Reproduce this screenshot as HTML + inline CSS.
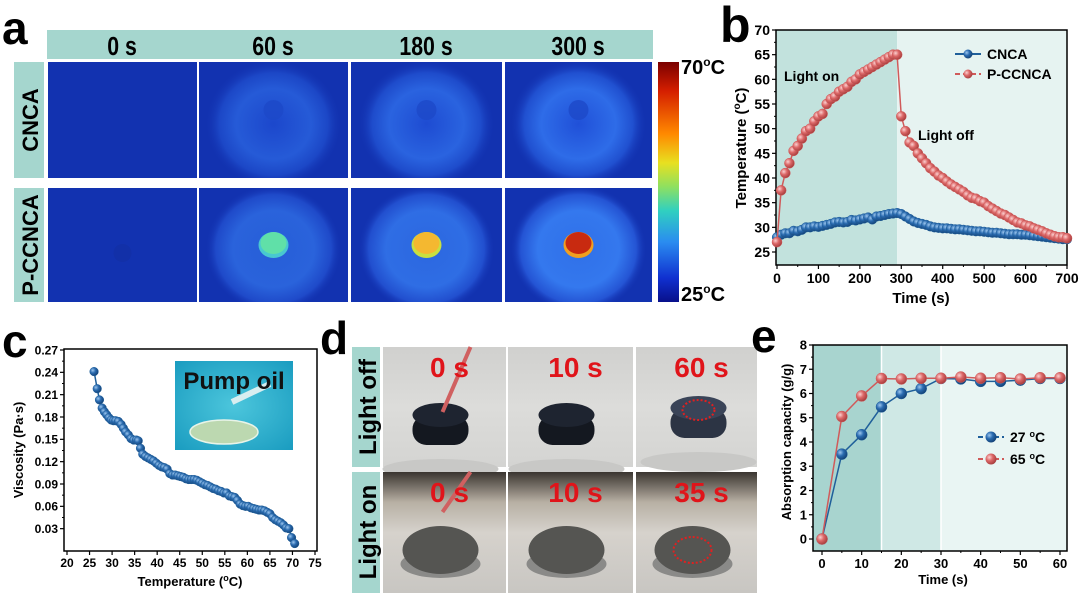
<!DOCTYPE html>
<html><head><meta charset="utf-8">
<style>
html,body{margin:0;padding:0;background:#fff;}
svg{display:block;font-family:"Liberation Sans",Arial,sans-serif;font-weight:bold;}
</style></head>
<body>
<svg id="fig" width="1080" height="593" viewBox="0 0 1080 593">
<defs id="defs">
  <radialGradient id="ballBlue" cx="0.35" cy="0.35" r="0.7">
    <stop offset="0" stop-color="#9cc6ee"/><stop offset="0.45" stop-color="#2a6bb0"/><stop offset="1" stop-color="#123f72"/>
  </radialGradient>
  <radialGradient id="ballRed" cx="0.35" cy="0.35" r="0.7">
    <stop offset="0" stop-color="#fbd0d0"/><stop offset="0.45" stop-color="#dc6868"/><stop offset="1" stop-color="#a33a3a"/>
  </radialGradient>
  <linearGradient id="cbar" x1="0" y1="0" x2="0" y2="1">
    <stop offset="0" stop-color="#7a0000"/><stop offset="0.12" stop-color="#d41e00"/><stop offset="0.3" stop-color="#ff8a00"/>
    <stop offset="0.42" stop-color="#e8e020"/><stop offset="0.52" stop-color="#8ee060"/><stop offset="0.62" stop-color="#30d0c0"/>
    <stop offset="0.75" stop-color="#2a8cf0"/><stop offset="0.9" stop-color="#1030d0"/><stop offset="1" stop-color="#08108a"/>
  </linearGradient>
  <radialGradient id="glow" cx="0.5" cy="0.5" r="0.5">
    <stop offset="0" stop-color="#2050d8"/><stop offset="0.55" stop-color="#2e6ce8"/><stop offset="0.8" stop-color="#2050d0"/><stop offset="1" stop-color="#1434b4" stop-opacity="0"/>
  </radialGradient>
  <radialGradient id="glow2" cx="0.5" cy="0.5" r="0.5">
    <stop offset="0" stop-color="#3070e8"/><stop offset="0.6" stop-color="#3478ee"/><stop offset="0.85" stop-color="#2454d4"/><stop offset="1" stop-color="#1434b4" stop-opacity="0"/>
  </radialGradient>
  <linearGradient id="photoOff" x1="0" y1="0" x2="0" y2="1">
    <stop offset="0" stop-color="#d0d0ce"/><stop offset="0.5" stop-color="#dcdcda"/><stop offset="1" stop-color="#d4d4d2"/>
  </linearGradient>
  <linearGradient id="photoOn" x1="0" y1="0" x2="0" y2="1">
    <stop offset="0" stop-color="#3a3530"/><stop offset="0.25" stop-color="#b8b0a4"/><stop offset="0.5" stop-color="#d6d2cc"/><stop offset="1" stop-color="#c8c6c2"/>
  </linearGradient>
  <radialGradient id="inset" cx="0.5" cy="0.5" r="0.7">
    <stop offset="0" stop-color="#4cc6dc"/><stop offset="1" stop-color="#1a9cc0"/>
  </radialGradient>
</defs>

<!-- ============ PANEL A ============ -->
<g>
  <text x="2" y="44" font-size="46">a</text>
  <rect x="47" y="30" width="606" height="29" fill="#a5d6ce"/>
  <g font-size="26" text-anchor="middle">
    <text transform="translate(122,55) scale(0.82,1)">0 s</text>
    <text transform="translate(273,55) scale(0.82,1)">60 s</text>
    <text transform="translate(426,55) scale(0.82,1)">180 s</text>
    <text transform="translate(578,55) scale(0.82,1)">300 s</text>
  </g>
  <rect x="14" y="62" width="30" height="116" fill="#a5d6ce"/>
  <rect x="14" y="188" width="30" height="114" fill="#a5d6ce"/>
  <text transform="translate(38,120) rotate(-90)" font-size="22" text-anchor="middle">CNCA</text>
  <text transform="translate(38,245) rotate(-90)" font-size="22" text-anchor="middle">P-CCNCA</text>
  <g id="thermal"></g>
  <rect x="658" y="62" width="21" height="240" fill="url(#cbar)"/>
  <text x="681" y="74" font-size="20">70<tspan font-size="12" dy="-8">o</tspan><tspan dy="8">C</tspan></text>
  <text x="681" y="301" font-size="20">25<tspan font-size="12" dy="-8">o</tspan><tspan dy="8">C</tspan></text>
</g>

<!-- ============ PANEL B ============ -->
<g>
  <text x="720" y="42" font-size="50">b</text>
  <g id="chartB"></g>
</g>

<!-- ============ PANEL C ============ -->
<g>
  <text x="2" y="357" font-size="46">c</text>
  <g id="chartC"></g>
</g>

<!-- ============ PANEL D ============ -->
<g>
  <text x="320" y="354" font-size="46">d</text>
  <rect x="352" y="347" width="28" height="120" fill="#a5d6ce"/>
  <rect x="352" y="472" width="28" height="121" fill="#a5d6ce"/>
  <text transform="translate(376,407) rotate(-90)" font-size="24" text-anchor="middle">Light off</text>
  <text transform="translate(376,532) rotate(-90)" font-size="24" text-anchor="middle">Light on</text>
  <g id="photos"></g>
</g>

<!-- ============ PANEL E ============ -->
<g>
  <text x="751" y="352" font-size="46">e</text>
  <g id="chartE"></g>
</g>
</svg>

<script>
// ---------- DATA ----------
// Panel b
const bTime = [];
for (let i = 0; i <= 70; i++) bTime.push(i * 10);
const bCNCA = [28,28.5,28.8,28.8,29.3,29.2,29.5,30,30,30.2,
  30.1,30.3,30.5,30.7,31,31.1,31.0,31.1,31.5,31.4,
  31.6,31.8,32,31.6,32.2,32.3,32.5,32.7,32.8,32.9,
  32.7,32.2,31.7,31.2,30.9,30.7,30.5,30.2,30.0,29.9,
  29.8,29.8,29.7,29.6,29.6,29.5,29.4,29.3,29.2,29.2,
  29.1,29.0,28.9,28.9,28.8,28.7,28.6,28.6,28.6,28.5,
  28.5,28.4,28.3,28.2,28.1,28,27.9,27.8,27.7,27.6,27.6];
const bPCCNCA = [27,37.5,41,43,45.5,46.5,48,49.5,50,51.5,
  52.5,53,55,56,56.5,57.5,58,58.5,59.5,60,
  61,61.5,62,62.5,63,63.5,64,64.5,65,65,
  52.5,49.5,47.2,46.5,45,44,43,42,41.3,40.5,
  40,39.3,38.7,38.2,37.7,37.2,36.5,36,35.8,35.3,
  35,34.3,33.8,33.3,32.8,32.5,32,31.5,31,30.8,
  30.4,30.2,29.8,29.5,29.2,28.8,28.5,28.2,28,28,27.8];
const bXTicks = [0,100,200,300,400,500,600,700];
const bYTicks = [25,30,35,40,45,50,55,60,65,70];

// Panel c
const cTemp = [26,26.7,27.2,27.8,28.3,28.8,29.3,29.8,30.3,30.8,31.4,32,32.5,33,33.6,34.2,34.8,35.4,35.8,36.3,36.8,37.4,38,38.6,39.2,39.8,40.4,41,41.6,42.2,42.8,43.4,44,44.6,45.2,45.8,46.4,47,47.6,48.2,48.8,49.4,50,50.6,51.2,51.8,52.4,53,53.6,54.2,54.8,55.4,56,56.6,57.2,57.8,58.4,59,59.6,60.2,60.8,61.4,62,62.6,63.2,63.8,64.4,65,65.6,66.2,66.8,67.4,68,68.6,69.2,69.8,70.5];
const cVisc = [0.241,0.218,0.203,0.192,0.187,0.183,0.179,0.176,0.175,0.175,0.174,0.170,0.165,0.160,0.156,0.151,0.149,0.149,0.148,0.138,0.130,0.127,0.125,0.123,0.121,0.118,0.115,0.113,0.112,0.110,0.104,0.102,0.102,0.101,0.100,0.099,0.097,0.096,0.096,0.096,0.095,0.093,0.091,0.089,0.088,0.086,0.084,0.083,0.081,0.080,0.078,0.078,0.074,0.073,0.072,0.068,0.063,0.061,0.060,0.060,0.058,0.057,0.056,0.055,0.055,0.054,0.052,0.050,0.045,0.042,0.040,0.038,0.035,0.031,0.030,0.018,0.010];
const cXTicks = [20,25,30,35,40,45,50,55,60,65,70,75];
const cYTicks = [0.03,0.06,0.09,0.12,0.15,0.18,0.21,0.24,0.27];

// Panel e
const eTime = [0,5,10,15,20,25,30,35,40,45,50,55,60];
const e27 = [0,3.5,4.3,5.45,6.0,6.2,6.62,6.6,6.5,6.5,6.55,6.62,6.62];
const e65 = [0,5.05,5.9,6.62,6.6,6.63,6.63,6.68,6.63,6.65,6.6,6.65,6.65];
const eXTicks = [0,10,20,30,40,50,60];
const eYTicks = [0,1,2,3,4,5,6,7,8];

// ---------- HELPERS ----------
const NS = "http://www.w3.org/2000/svg";
function mk(parent, tag, attrs) {
  const el = document.createElementNS(NS, tag);
  for (const k in attrs) el.setAttribute(k, attrs[k]);
  parent.appendChild(el);
  return el;
}
function txt(parent, x, y, s, size, anchor) {
  const t = mk(parent, "text", {x: x, y: y, "font-size": size, "text-anchor": anchor || "middle"});
  t.textContent = s;
  return t;
}

// ---------- THERMAL IMAGES ----------
(function () {
  const g = document.getElementById("thermal");
  const defs = document.getElementById("defs");
  const cols = [[48,149],[199,149],[351,151],[505,147]];
  const rows = [[62,116],[188,114]];
  const spots = [null, ["#60e0a8","#48c8d0"], ["#f4b830","#c8e040"], ["#c82a10","#f0a020"]];
  rows.forEach((r, ri) => {
    cols.forEach((c, ci) => {
      const cid = "clip" + ri + ci;
      const cp = mk(defs, "clipPath", {id: cid});
      mk(cp, "rect", {x: c[0], y: r[0], width: c[1], height: r[1]});
      const cell = mk(g, "g", {"clip-path": "url(#" + cid + ")"});
      
      
      mk(cell, "rect", {x: c[0], y: r[0], width: c[1], height: r[1], fill: "#1232b0"});
      const cx = c[0] + c[1] / 2, cy = r[0] + r[1] / 2 + 4;
      if (ci > 0) {
        mk(cell, "ellipse", {cx: cx, cy: cy, rx: 68, ry: 64, fill: ri === 0 ? "url(#glow)" : "url(#glow2)", opacity: 0.55 + 0.15 * ci});
        if (ri === 0) mk(cell, "circle", {cx: cx, cy: cy - 14, r: 10, fill: "#1d48c8", opacity: 0.8});
      } else if (ri === 1) {
        mk(cell, "circle", {cx: cx, cy: cy + 4, r: 9, fill: "#1230a8"});
      }
      if (ri === 1 && spots[ci]) {
        const s = spots[ci];
        mk(cell, "ellipse", {cx: cx, cy: cy - 4, rx: 15, ry: 13, fill: s[1]});
        mk(cell, "ellipse", {cx: cx, cy: cy - 6, rx: 13, ry: 11, fill: s[0]});
      }
    });
  });
})();

// ---------- PHOTOS ----------
(function () {
  const g = document.getElementById("photos");
  const cols = [[383,123],[508,125],[636,121]];
  const rows = [[347,120,"url(#photoOff)"],[472,121,"url(#photoOn)"]];
  const labels = [["0 s","10 s","60 s"],["0 s","10 s","35 s"]];
  rows.forEach((r, ri) => {
    cols.forEach((c, ci) => {
      const cell = mk(g, "g", {});
      
      
      mk(cell, "rect", {x: c[0], y: r[0], width: c[1], height: r[1], fill: r[2]});
      const cx = c[0] + c[1] / 2 + (ri === 0 && ci === 2 ? 2 : -4);
      if (ri === 0) {
        const cy = r[0] + (ci === 2 ? 75 : 82);
        mk(cell, "ellipse", {cx: cx, cy: cy + 40, rx: 58, ry: 10, fill: "#c8c8c6"});
        mk(cell, "rect", {x: cx - 28, y: cy - 14, width: 56, height: 30, rx: 14, fill: ci === 2 ? "#2c3444" : "#141820"});
        mk(cell, "ellipse", {cx: cx, cy: cy - 14, rx: 28, ry: 12, fill: ci === 2 ? "#3a4458" : "#1e2430"});
        if (ci === 2) mk(cell, "ellipse", {cx: cx, cy: cy - 12, rx: 16, ry: 10, fill: "none", stroke: "#e02020", "stroke-width": 2, "stroke-dasharray": "2 2"});
      } else {
        const cy = r[0] + 80;
        mk(cell, "ellipse", {cx: cx, cy: cy + 12, rx: 40, ry: 14, fill: "#8a8a88"});
        mk(cell, "ellipse", {cx: cx, cy: cy - 2, rx: 38, ry: 24, fill: "#555552"});
        if (ci === 2) mk(cell, "ellipse", {cx: cx, cy: cy - 2, rx: 19, ry: 13, fill: "none", stroke: "#e02020", "stroke-width": 2, "stroke-dasharray": "2 2"});
      }
      if (ci === 0) mk(cell, "line", {x1: cx + 2, y1: r[0] + (ri === 0 ? 65 : 40), x2: cx + 30, y2: r[0], stroke: "#d06060", "stroke-width": 4});
      const t = txt(cell, c[0] + c[1] / 2 + 5, r[0] + 30, labels[ri][ci], 28);
      t.setAttribute("fill", "#e0141a");
    });
  });
})();

// ---------- GENERIC AXES ----------
function axes(g, box, xTicks, yTicks, xs, ys, fs, xFmt, yFmt, minorX, minorY) {
  const [L, T, R, B] = box;
  mk(g, "rect", {x: L, y: T, width: R - L, height: B - T, fill: "none", stroke: "#000", "stroke-width": 1.5});
  xTicks.forEach(v => {
    const x = xs(v);
    mk(g, "line", {x1: x, y1: B, x2: x, y2: B + 4, stroke: "#000", "stroke-width": 1.2});
    const t = txt(g, x, B + fs + 4, xFmt(v), fs);
    
    
  });
  yTicks.forEach(v => {
    const y = ys(v);
    mk(g, "line", {x1: L - 4, y1: y, x2: L, y2: y, stroke: "#000", "stroke-width": 1.2});
    const t = txt(g, L - 6, y + fs * 0.36, yFmt(v), fs, "end");
    
    
  });
  if (minorX) for (let i = 0; i < xTicks.length - 1; i++) {
    const x = xs((xTicks[i] + xTicks[i + 1]) / 2);
    mk(g, "line", {x1: x, y1: B, x2: x, y2: B + 2, stroke: "#000"});
  }
  if (minorY) for (let i = 0; i < yTicks.length - 1; i++) {
    const y = ys((yTicks[i] + yTicks[i + 1]) / 2);
    mk(g, "line", {x1: L - 2, y1: y, x2: L, y2: y, stroke: "#000"});
  }
}
function series(g, xsArr, ysArr, xs, ys, color, grad, r, name) {
  const sg = mk(g, "g", {});
  
  
  let d = "";
  xsArr.forEach((v, i) => { d += (i ? "L" : "M") + xs(v).toFixed(1) + "," + ys(ysArr[i]).toFixed(1); });
  mk(sg, "path", {d: d, fill: "none", stroke: color, "stroke-width": 1.5});
  xsArr.forEach((v, i) => {
    const c = mk(sg, "circle", {cx: xs(v), cy: ys(ysArr[i]), r: r, fill: grad, stroke: color, "stroke-width": 0.5});
    
    
  });
}
function legend(g, x, y, color, grad, label, r, fs, dashed) {
  const lg = mk(g, "g", {});
  
  
  mk(lg, "line", {x1: x, y1: y, x2: x + 26, y2: y, stroke: color, "stroke-width": 2, "stroke-dasharray": dashed ? "5 3" : "none"});
  mk(lg, "circle", {cx: x + 13, cy: y, r: r, fill: grad});
  const t = mk(lg, "text", {x: x + 32, y: y + fs * 0.36, "font-size": fs});
  t.innerHTML = label;
}

// ---------- CHART B ----------
(function () {
  const g = document.getElementById("chartB");
  const box = [776, 30, 1067, 265];
  const xs = v => 777 + v * (290 / 700);
  const ys = v => 252 - (v - 25) * (222 / 45);
  const on = mk(g, "rect", {x: box[0], y: box[1], width: xs(290) - box[0], height: box[3] - box[1], fill: "#c2e2dd"});
  
  
  const off = mk(g, "rect", {x: xs(290), y: box[1], width: box[2] - xs(290), height: box[3] - box[1], fill: "#e6f3f1"});
  
  
  axes(g, box, bXTicks, bYTicks, xs, ys, 14, v => String(v), v => String(v), true, true);
  series(g, bTime, bCNCA, xs, ys, "#1f5f9a", "url(#ballBlue)", 4.8, "series-cnca");
  series(g, bTime, bPCCNCA, xs, ys, "#d05a5a", "url(#ballRed)", 5, "series-pccnca");
  const a1 = txt(g, 784, 81, "Light on", 14, "start");
   
  const a2 = txt(g, 918, 140, "Light off", 14, "start");
   
  legend(g, 955, 54, "#1f5f9a", "url(#ballBlue)", "CNCA", 4.5, 14, false);
  legend(g, 955, 74, "#d05a5a", "url(#ballRed)", "P-CCNCA", 4.5, 14, true);
  const xt = mk(g, "text", {x: 921, y: 303, "font-size": 15, "text-anchor": "middle"});
  xt.textContent = "Time (s)";
   
  const yt = mk(g, "text", {transform: "translate(746,148) rotate(-90)", "font-size": 15, "text-anchor": "middle"});
  yt.innerHTML = 'Temperature (<tspan font-size="10" dy="-6">o</tspan><tspan dy="6">C)</tspan>';
   
})();

// ---------- CHART C ----------
(function () {
  const g = document.getElementById("chartC");
  const box = [64, 349, 317, 551];
  const xs = v => 67 + (v - 20) * (248 / 55);
  const ys = v => 551 - v * (201 / 0.27);
  mk(g, "rect", {x: box[0], y: box[1], width: box[2] - box[0], height: box[3] - box[1], fill: "#fff"});
  axes(g, box, cXTicks, cYTicks, xs, ys, 12, v => String(v), v => v.toFixed(2), false, true);
  series(g, cTemp, cVisc, xs, ys, "#1f5f9a", "url(#ballBlue)", 4.3, "series-viscosity");
  const ins = mk(g, "g", {});
  
  
  mk(ins, "rect", {x: 175, y: 361, width: 118, height: 89, fill: "url(#inset)"});
  mk(ins, "ellipse", {cx: 224, cy: 432, rx: 34, ry: 12, fill: "#bcd8b0", stroke: "#e8f4e8", "stroke-width": 1.5});
  mk(ins, "line", {x1: 232, y1: 402, x2: 270, y2: 384, stroke: "#d8eef0", "stroke-width": 6});
  const it = txt(ins, 234, 389, "Pump oil", 24);
  it.setAttribute("fill", "#111");
  const xt = mk(g, "text", {x: 190, y: 586, "font-size": 13, "text-anchor": "middle"});
  xt.innerHTML = 'Temperature (<tspan font-size="9" dy="-5">o</tspan><tspan dy="5">C)</tspan>';
   
  const yt = mk(g, "text", {transform: "translate(23,450) rotate(-90)", "font-size": 13, "text-anchor": "middle"});
  yt.textContent = "Viscosity (Pa·s)";
   
})();

// ---------- CHART E ----------
(function () {
  const g = document.getElementById("chartE");
  const box = [813, 345, 1067, 551];
  const xs = v => 822 + v * (238 / 60);
  const ys = v => 539 - v * (194 / 8);
  const r1 = mk(g, "rect", {x: box[0], y: box[1], width: xs(15) - box[0], height: box[3] - box[1], fill: "#a8d4cf"});
   
  const r2 = mk(g, "rect", {x: xs(15), y: box[1], width: xs(30) - xs(15), height: box[3] - box[1], fill: "#cfe8e5"});
   
  const r3 = mk(g, "rect", {x: xs(30), y: box[1], width: box[2] - xs(30), height: box[3] - box[1], fill: "#e9f5f3"});
   
  mk(g, "line", {x1: xs(15), y1: box[1], x2: xs(15), y2: box[3], stroke: "#fff", "stroke-width": 1.5});
  mk(g, "line", {x1: xs(30), y1: box[1], x2: xs(30), y2: box[3], stroke: "#fff", "stroke-width": 1.5});
  axes(g, box, eXTicks, eYTicks, xs, ys, 13, v => String(v), v => String(v), true, true);
  series(g, eTime, e27, xs, ys, "#1f5f9a", "url(#ballBlue)", 5.5, "series-27c");
  series(g, eTime, e65, xs, ys, "#d05a5a", "url(#ballRed)", 5.5, "series-65c");
  legend(g, 978, 437, "#1f5f9a", "url(#ballBlue)", '27 <tspan font-size="9" dy="-5">o</tspan><tspan dy="5">C</tspan>', 5.5, 14, true);
  legend(g, 978, 459, "#d05a5a", "url(#ballRed)", '65 <tspan font-size="9" dy="-5">o</tspan><tspan dy="5">C</tspan>', 5.5, 14, true);
  const xt = txt(g, 943, 584, "Time (s)", 13);
   
  const yt = mk(g, "text", {transform: "translate(791,442) rotate(-90)", "font-size": 13, "text-anchor": "middle"});
  yt.textContent = "Absorption capacity (g/g)";
   
})();
</script>
</body></html>
